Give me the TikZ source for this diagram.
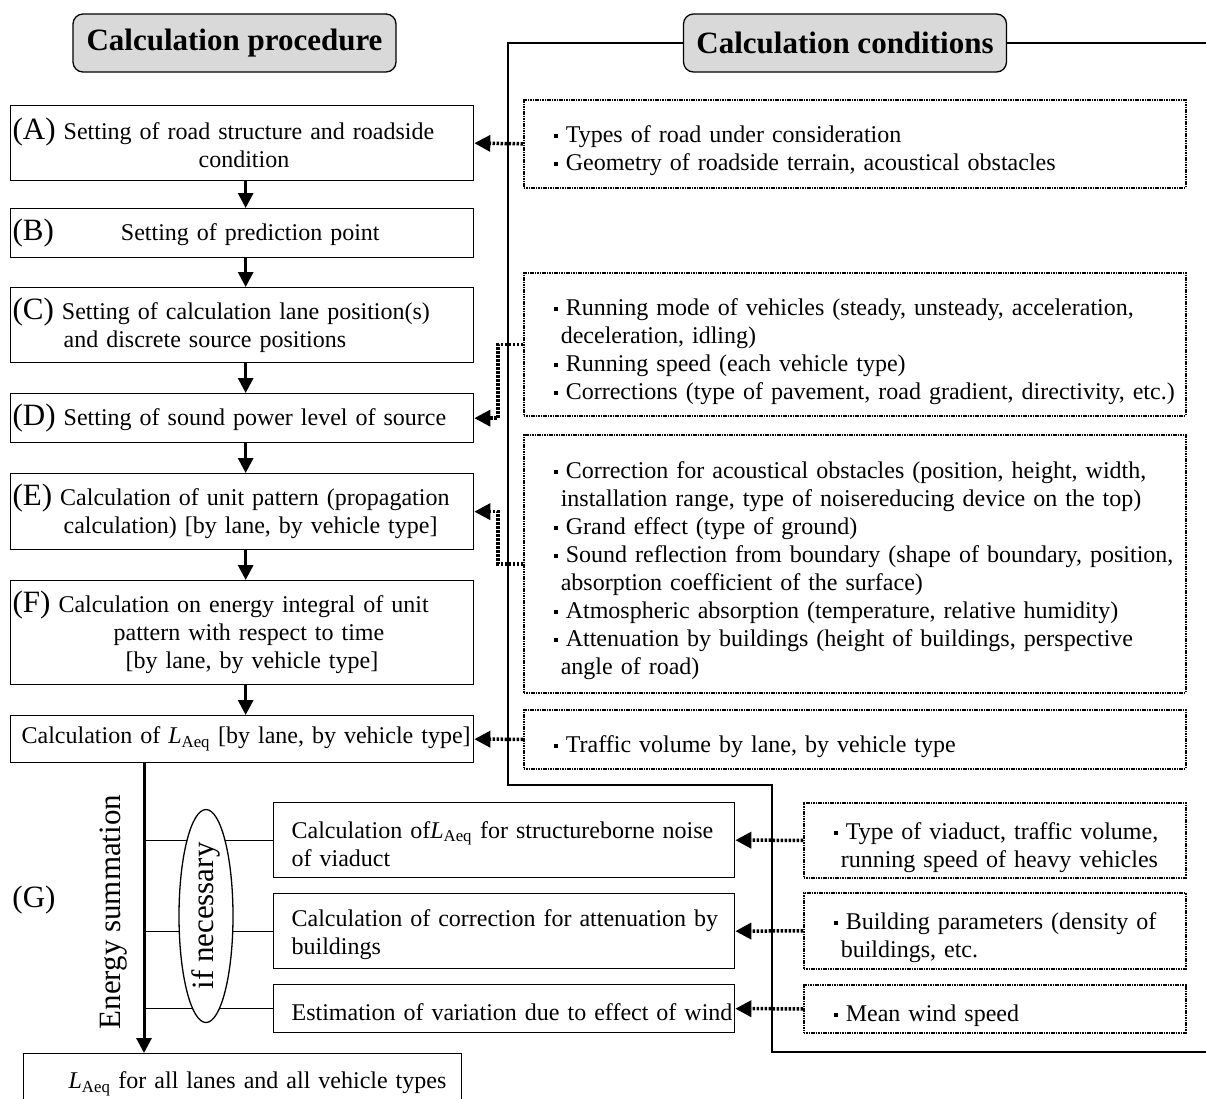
\documentclass[tikz,border=0pt]{standalone}
\usepackage{fontspec}
\setmainfont{Liberation Serif}
\usetikzlibrary{arrows.meta, shapes.geometric, positioning}
\newcommand{\body}{\fontsize{24}{28}\selectfont}
\newcommand{\lab}{\fontsize{31}{28}\selectfont}
\newcommand{\hdfont}{\fontsize{31}{34}\selectfont\bfseries}
\newcommand{\LAeq}{\textit{L}\textsubscript{Aeq}}
\newcommand{\sq}{\raisebox{4.5pt}{\rule{4pt}{4pt}}\hspace{8pt}}
\newcommand{\itm}[1]{\mbox{\hspace*{30pt}\sq#1}}
\newcommand{\cnt}[1]{\mbox{\hspace*{37pt}#1}}

\begin{document}
\begin{tikzpicture}[x=1pt, y=-1pt,
	hdr/.style={draw, line width=1.3pt, rounded corners=10pt, fill=black!15, minimum width=323pt, minimum height=58pt, font=\hdfont},
	proc/.style={draw, line width=1.3pt, anchor=north west, text width=463pt, inner xsep=0pt, inner ysep=0pt, align=left, font=\body},
	cond/.style={draw, line width=1.6pt, dash pattern=on 1.6pt off 0.8pt, anchor=north west, text width=662pt, inner xsep=0pt, inner ysep=0pt, align=left, font=\body, execute at begin node={\rule{0pt}{31pt}}},
	gbox/.style={proc, text width=461pt, execute at begin node={\rule{0pt}{24pt}}},
	flow/.style={line width=3pt, -{Triangle[length=15pt,width=15pt]}},
	feed/.style={line width=3.5pt, dash pattern=on 2.5pt off 1.5pt, -{Triangle[length=16pt,width=16pt]}}]
	\useasboundingbox (0,0) rectangle (1206,1098);

	% headers
	\node[hdr] (hdrL) at (234.5,43) {Calculation procedure};
	\node[hdr] (hdrR) at (845,43) {Calculation conditions};

	% procedure
	\node[proc, minimum height=75pt] (A) at (10,105) {\hspace*{2pt}{\lab (A)} Setting of road structure and roadside\\\hspace*{188pt}condition};
	\node[proc, minimum height=49pt] (B) at (10,208) {\hspace*{2pt}{\lab (B)}\hspace*{67pt}Setting of prediction point};
	\node[proc, minimum height=75pt] (C) at (10,287) {\hspace*{2pt}{\lab (C)} Setting of calculation lane position(s)\\\hspace*{53pt}and discrete source positions};
	\node[proc, minimum height=49pt] (D) at (10,393) {\hspace*{2pt}{\lab (D)} Setting of sound power level of source};
	\node[proc, minimum height=76pt] (E) at (10,473) {\hspace*{2pt}{\lab (E)} Calculation of unit pattern (propagation\\\hspace*{53pt}calculation) [by lane, by vehicle type]};
	\node[proc, minimum height=104pt] (F) at (10,580) {\hspace*{2pt}{\lab (F)} Calculation on energy integral of unit\\\hspace*{103pt}pattern with respect to time\\\hspace*{115pt}[by lane, by vehicle type]};
	\node[proc, minimum height=47pt] (L) at (10,715) {\mbox{\hspace*{11pt}Calculation of\hspace{8pt}\LAeq{} [by lane, by vehicle type]}};
	\node[proc, text width=438pt, minimum height=60pt] (tot) at (23,1053) {\hspace*{45pt}\LAeq{} for all lanes and all vehicle types};

	\foreach \a/\b in {A/B,B/C,C/D,D/E,E/F,F/L}
		\draw[flow] ([xshift=3.5pt]\a.south) -- ([xshift=3.5pt]\b.north);

	% frame of the conditions
	\draw[line width=1.3pt] (hdrR.west) -| (508,785) -| (772,1052) -- (1206,1052);
	\draw[line width=1.3pt] (hdrR.east) -- (1206,43);

	% conditions
	\node[cond, minimum height=88pt] (R1) at (523,99) {\itm{Types of road under consideration}\\\itm{Geometry of roadside terrain, acoustical obstacles}};
	\node[cond, minimum height=143pt] (R2) at (523,272) {\itm{Running mode of vehicles (steady, unsteady, acceleration,}\\\cnt{deceleration, idling)}\\\itm{Running speed (each vehicle type)}\\\itm{Corrections (type of pavement, road gradient, directivity, etc.)}};
	\node[cond, minimum height=258pt] (R3) at (523,434) {\itm{Correction for acoustical obstacles (position, height, width,}\\\cnt{installation range, type of noisereducing device on the top)}\\\itm{Grand effect (type of ground)}\\\itm{Sound reflection from boundary (shape of boundary, position,}\\\cnt{absorption coefficient of the surface)}\\\itm{Atmospheric absorption (temperature, relative humidity)}\\\itm{Attenuation by buildings (height of buildings, perspective}\\\cnt{angle of road)}};
	\node[cond, minimum height=59pt] (R4) at (523,709) {\itm{Traffic volume by lane, by vehicle type}};

	% (G) energy summation
	\node[gbox, minimum height=75pt] (G1) at (273,802) {\hspace*{18pt}Calculation of\LAeq{} for structureborne noise\\\hspace*{18pt}of viaduct};
	\node[gbox, minimum height=75pt] (G2) at (273,893) {\hspace*{18pt}Calculation of correction for attenuation by\\\hspace*{18pt}buildings};
	\node[gbox, minimum height=48pt] (G3) at (273,984) {\mbox{\hspace*{18pt}Estimation of variation due to effect of wind}};

	\node[cond, text width=382pt, minimum height=75pt] (R5) at (803,802) {\itm{Type of viaduct, traffic volume,}\\\cnt{running speed of heavy vehicles}};
	\node[cond, text width=382pt, minimum height=76pt] (R6) at (803,892) {\itm{Building parameters (density of}\\\cnt{buildings, etc.}};
	\node[cond, text width=382pt, minimum height=48pt] (R7) at (803,984) {\itm{Mean wind speed}};

	\coordinate (trunk) at (144,0);
	\draw[flow] (L.south -| trunk) -- (tot.north -| trunk);
	\foreach \g in {G1,G2,G3}
		\draw[line width=1.3pt] (trunk |- \g.west) -- (\g.west);
	\node[draw, ellipse, line width=1.3pt, fill=white, rotate=90, minimum width=213pt, minimum height=54pt, inner sep=0pt, font=\lab] (nec) at (206,916) {if necessary};
	\node[rotate=90, font=\lab] (esum) at (114,912) {Energy summation};
	\node[font=\lab] (labG) at (34,900) {(G)};

	% inputs
	\draw[feed] (R1.west) -- (A.east);
	\draw[feed] (R2.west) -- ++(-25,0) |- (D.east);
	\draw[feed] (R3.west) -- ++(-25,0) |- (E.east);
	\draw[feed] (R4.west) -- (L.east);
	\draw[feed] (R5.west) -- (G1.east);
	\draw[feed] (R6.west) -- (G2.east);
	\draw[feed] (R7.west) -- (G3.east);
\end{tikzpicture}
\end{document}
